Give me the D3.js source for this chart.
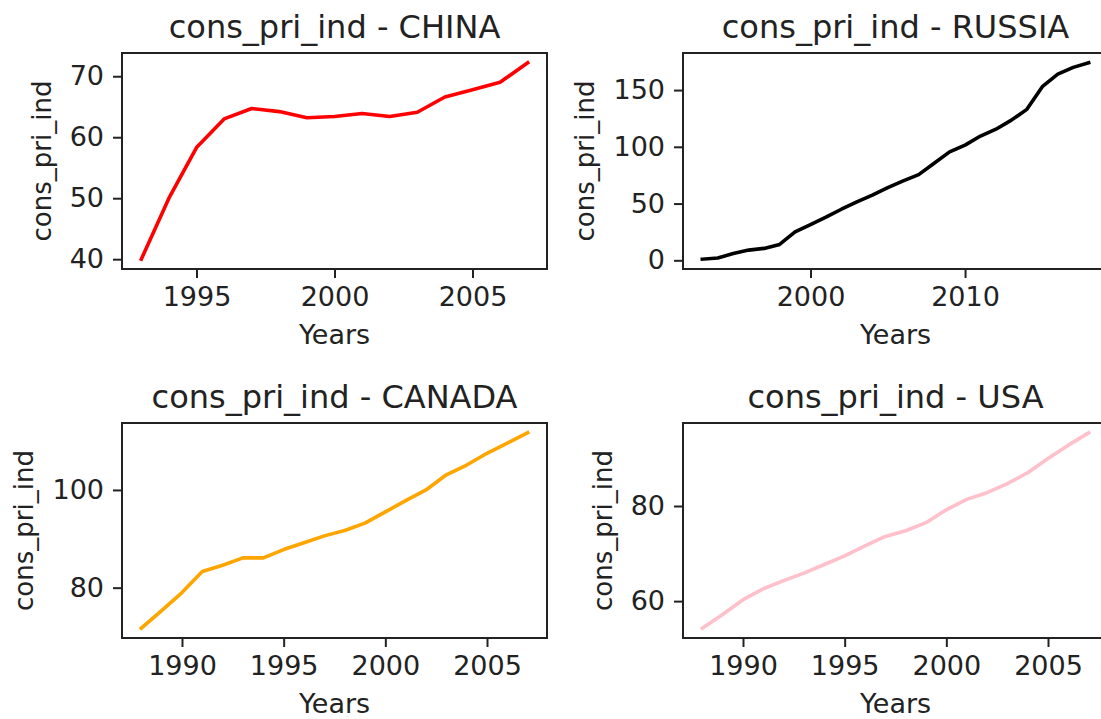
<!DOCTYPE html>
<html>
<head>
<meta charset="utf-8">
<script src="https://cdn.jsdelivr.net/npm/d3@7"></script>
<style>
  body { margin: 0; background: #fff; }
  svg { display: block; overflow: hidden; }
  text { font-family: "DejaVu Sans", sans-serif; fill: #222; }
</style>
</head>
<body>
<svg id="chart" width="1101" height="719"></svg>
<script>
// values
const chinaYears = [1993, 1994, 1995, 1996, 1997, 1998, 1999, 2000, 2001, 2002, 2003, 2004, 2005, 2006, 2007];
const chinaValues = [40.0, 50.0, 58.3, 63.0, 64.7, 64.2, 63.2, 63.4, 63.9, 63.4, 64.1, 66.6, 67.8, 69.0, 72.2];

const russiaYears = [1993, 1994, 1995, 1996, 1997, 1998, 1999, 2000, 2001, 2002, 2003, 2004, 2005,
                     2006, 2007, 2008, 2009, 2010, 2011, 2012, 2013, 2014, 2015, 2016, 2017, 2018];
const russiaValues = [1, 2, 6, 9, 10.5, 14, 25, 31.5, 38, 45, 51.5, 57.5, 64,
                      70, 75.5, 85.5, 95.5, 101.5, 109.5, 115.5, 123.5, 133, 153, 164, 170, 174];

const canadaYears = [1988, 1989, 1990, 1991, 1992, 1993, 1994, 1995, 1996, 1997,
                     1998, 1999, 2000, 2001, 2002, 2003, 2004, 2005, 2006, 2007];
const canadaValues = [71.7, 75.3, 79.0, 83.3, 84.6, 86.1, 86.1, 87.8, 89.2, 90.6,
                      91.7, 93.2, 95.5, 97.8, 100.0, 103.1, 105.1, 107.5, 109.6, 111.7];

const usaYears = [1988, 1989, 1990, 1991, 1992, 1993, 1994, 1995, 1996, 1997,
                  1998, 1999, 2000, 2001, 2002, 2003, 2004, 2005, 2006, 2007];
const usaValues = [54.3, 57.2, 60.3, 62.6, 64.3, 65.9, 67.7, 69.5, 71.6, 73.6,
                   74.8, 76.5, 79.2, 81.4, 82.8, 84.7, 87.0, 90.0, 92.8, 95.4];

const chinaXTicks = [1995, 2000, 2005];
const chinaYTicks = [40, 50, 60, 70];
const russiaXTicks = [2000, 2010];
const russiaYTicks = [0, 50, 100, 150];
const canadaXTicks = [1990, 1995, 2000, 2005];
const canadaYTicks = [80, 100];
const usaXTicks = [1990, 1995, 2000, 2005];
const usaYTicks = [60, 80];

const panels = [
  {name: "CHINA", years: chinaYears, values: chinaValues, xTicks: chinaXTicks, yTicks: chinaYTicks,
   color: "red", box: {left: 122, top: 53, width: 425, height: 216}},
  {name: "RUSSIA", years: russiaYears, values: russiaValues, xTicks: russiaXTicks, yTicks: russiaYTicks,
   color: "black", box: {left: 683, top: 53, width: 425, height: 216}},
  {name: "CANADA", years: canadaYears, values: canadaValues, xTicks: canadaXTicks, yTicks: canadaYTicks,
   color: "orange", box: {left: 122, top: 423, width: 425, height: 215}},
  {name: "USA", years: usaYears, values: usaValues, xTicks: usaXTicks, yTicks: usaYTicks,
   color: "pink", box: {left: 683, top: 423, width: 425, height: 215}}
];

const svg = d3.select("#chart");
const tickSize = 9, tickPad = 9;
const fontTick = 27, fontTitle = 32;

// matplotlib-like 5% margins on both axes
function padded(ext) {
  const m = (ext[1] - ext[0]) * 0.05;
  return [ext[0] - m, ext[1] + m];
}

panels.forEach(p => {
  const b = p.box;
  const g = svg.append("g").attr("transform", `translate(${b.left},${b.top})`);

  const x = d3.scaleLinear().domain(padded(d3.extent(p.years))).range([0, b.width]);
  const y = d3.scaleLinear().domain(padded(d3.extent(p.values))).range([b.height, 0]);

  const line = d3.line()
    .x((d, i) => x(p.years[i]))
    .y(d => y(d));

  g.append("path")
    .datum(p.values)
    .attr("d", line)
    .attr("fill", "none")
    .attr("stroke", p.color)
    .attr("stroke-width", 3.6)
    .attr("stroke-linejoin", "round")
    .attr("stroke-linecap", "square");

  const xAxis = g.append("g")
    .attr("transform", `translate(0,${b.height})`)
    .call(d3.axisBottom(x).tickValues(p.xTicks).tickFormat(d3.format("d"))
      .tickSize(tickSize).tickPadding(tickPad));
  const yAxis = g.append("g")
    .call(d3.axisLeft(y).tickValues(p.yTicks).tickFormat(d3.format("d"))
      .tickSize(tickSize).tickPadding(tickPad));

  [xAxis, yAxis].forEach(a => {
    a.select(".domain").remove();
    a.selectAll("line").attr("stroke", "#222").attr("stroke-width", 2);
    a.selectAll("text").attr("font-size", fontTick).attr("fill", "#222")
      .style("font-family", "'DejaVu Sans', sans-serif");
  });

  // frame
  g.append("rect")
    .attr("width", b.width).attr("height", b.height)
    .attr("fill", "none").attr("stroke", "#222").attr("stroke-width", 2);

  g.append("text")
    .attr("x", b.width / 2).attr("y", -15)
    .attr("text-anchor", "middle")
    .attr("font-size", fontTitle)
    .text(`cons_pri_ind - ${p.name}`);

  g.append("text")
    .attr("x", b.width / 2).attr("y", b.height + 75)
    .attr("text-anchor", "middle")
    .attr("font-size", fontTick)
    .text("Years");

  const yb = yAxis.node().getBBox();
  g.append("text")
    .attr("transform", `translate(${yb.x - 19},${b.height / 2}) rotate(-90)`)
    .attr("text-anchor", "middle")
    .attr("font-size", 26)
    .text("cons_pri_ind");
});
</script>
</body>
</html>
